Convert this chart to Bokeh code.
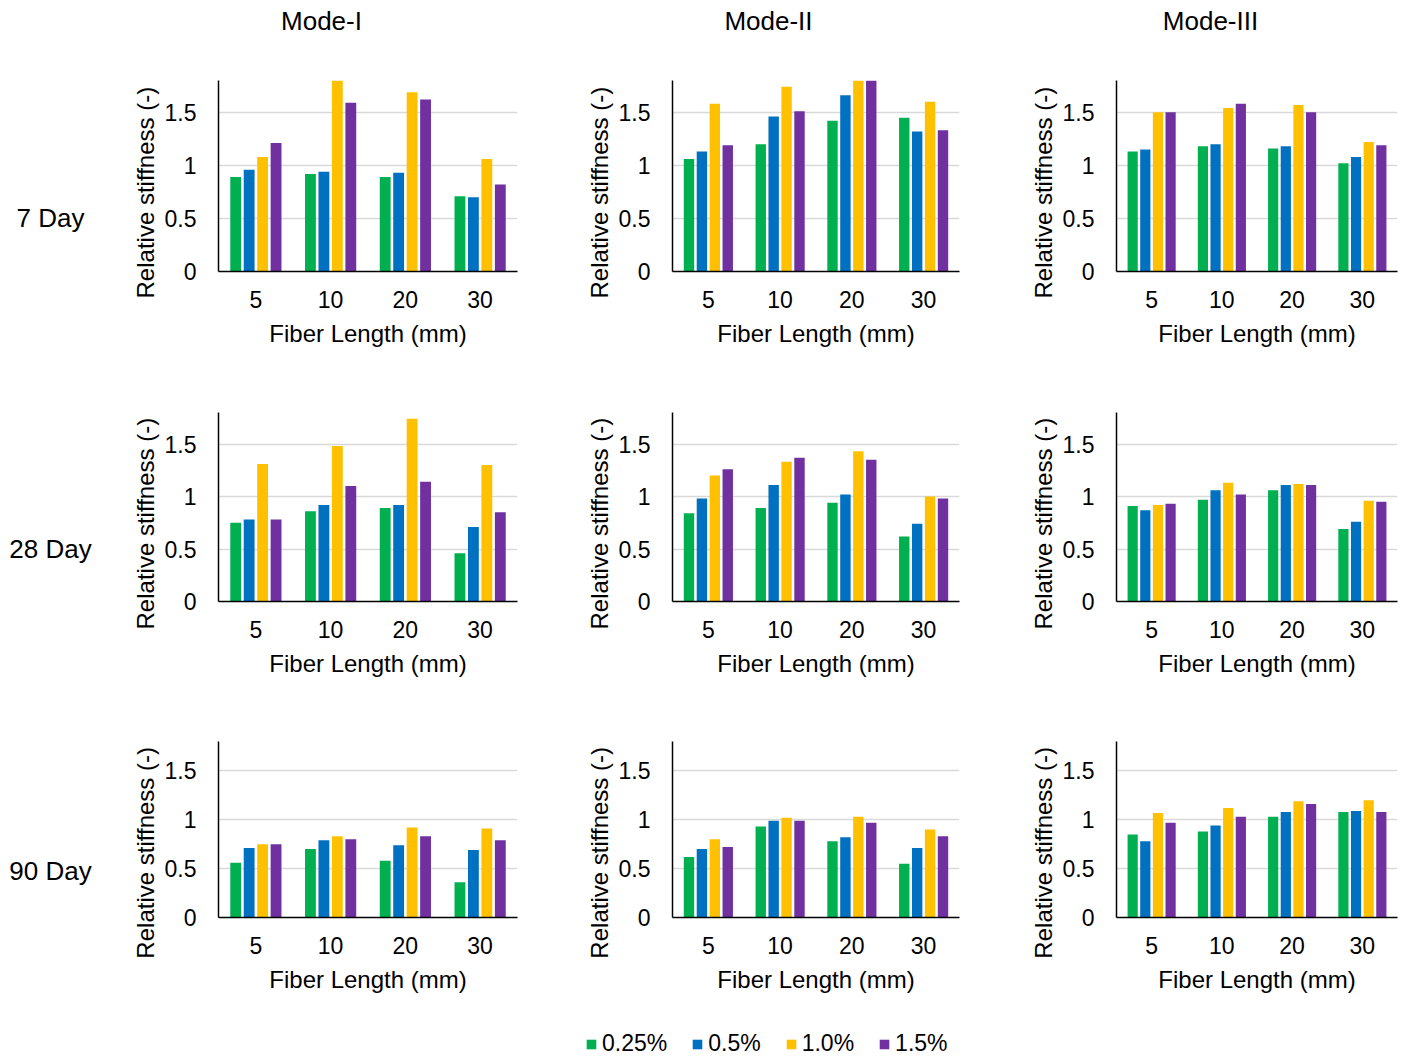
from bokeh.plotting import figure
from bokeh.layouts import column, row
from bokeh.models import (FactorRange, Range1d, FixedTicker, NumeralTickFormatter,
                          Label, Legend, LegendItem, ColumnDataSource)
from bokeh.transform import dodge
from bokeh.embed import file_html
from bokeh.resources import INLINE

FONT = "Liberation Sans"

lengths = ["5", "10", "20", "30"]
series = ["0.25%", "0.5%", "1.0%", "1.5%"]
colors = ["#00B050", "#0070C0", "#FFC000", "#7030A0"]
modes = ["Mode-I", "Mode-II", "Mode-III"]
ages = ["7 Day", "28 Day", "90 Day"]
y_ticks = [0, 0.5, 1, 1.5]
y_label = "Relative stiffness (-)"
x_label = "Fiber Length (mm)"

# ---- 7 Day ----
d7_m1_025 = [0.89, 0.92, 0.89, 0.71]
d7_m1_050 = [0.96, 0.94, 0.93, 0.70]
d7_m1_100 = [1.08, 1.80, 1.69, 1.06]
d7_m1_150 = [1.21, 1.59, 1.62, 0.82]

d7_m2_025 = [1.06, 1.20, 1.42, 1.45]
d7_m2_050 = [1.13, 1.46, 1.66, 1.32]
d7_m2_100 = [1.58, 1.74, 1.80, 1.60]
d7_m2_150 = [1.19, 1.51, 1.80, 1.33]

d7_m3_025 = [1.13, 1.18, 1.16, 1.02]
d7_m3_050 = [1.15, 1.20, 1.18, 1.08]
d7_m3_100 = [1.50, 1.54, 1.57, 1.22]
d7_m3_150 = [1.50, 1.58, 1.50, 1.19]

# ---- 28 Day ----
d28_m1_025 = [0.75, 0.86, 0.89, 0.46]
d28_m1_050 = [0.78, 0.92, 0.92, 0.71]
d28_m1_100 = [1.31, 1.48, 1.74, 1.30]
d28_m1_150 = [0.78, 1.10, 1.14, 0.85]

d28_m2_025 = [0.84, 0.89, 0.94, 0.62]
d28_m2_050 = [0.98, 1.11, 1.02, 0.74]
d28_m2_100 = [1.20, 1.33, 1.43, 1.00]
d28_m2_150 = [1.26, 1.37, 1.35, 0.98]

d28_m3_025 = [0.91, 0.97, 1.06, 0.69]
d28_m3_050 = [0.87, 1.06, 1.11, 0.76]
d28_m3_100 = [0.92, 1.13, 1.12, 0.96]
d28_m3_150 = [0.93, 1.02, 1.11, 0.95]

# ---- 90 Day ----
d90_m1_025 = [0.56, 0.70, 0.58, 0.36]
d90_m1_050 = [0.71, 0.79, 0.74, 0.69]
d90_m1_100 = [0.75, 0.83, 0.92, 0.91]
d90_m1_150 = [0.75, 0.80, 0.83, 0.79]

d90_m2_025 = [0.62, 0.93, 0.78, 0.55]
d90_m2_050 = [0.70, 0.99, 0.82, 0.71]
d90_m2_100 = [0.80, 1.02, 1.03, 0.90]
d90_m2_150 = [0.72, 0.99, 0.97, 0.83]

d90_m3_025 = [0.85, 0.88, 1.03, 1.08]
d90_m3_050 = [0.78, 0.94, 1.08, 1.09]
d90_m3_100 = [1.07, 1.12, 1.19, 1.20]
d90_m3_150 = [0.97, 1.03, 1.16, 1.08]

panels = [
    [[d7_m1_025, d7_m1_050, d7_m1_100, d7_m1_150],
     [d7_m2_025, d7_m2_050, d7_m2_100, d7_m2_150],
     [d7_m3_025, d7_m3_050, d7_m3_100, d7_m3_150]],
    [[d28_m1_025, d28_m1_050, d28_m1_100, d28_m1_150],
     [d28_m2_025, d28_m2_050, d28_m2_100, d28_m2_150],
     [d28_m3_025, d28_m3_050, d28_m3_100, d28_m3_150]],
    [[d90_m1_025, d90_m1_050, d90_m1_100, d90_m1_150],
     [d90_m2_025, d90_m2_050, d90_m2_100, d90_m2_150],
     [d90_m3_025, d90_m3_050, d90_m3_100, d90_m3_150]],
]

# layout geometry (px)
col_geo = [(98, 299, 48), (107, 287, 51), (106, 281, 3)]   # left border, frame width, right border
row_geo = [(35, 191, 104), (37, 189, 95), (45, 176, 83)]   # top border, frame height, bottom border
ylab_pad = [5, 5, 7]      # trailing no-break spaces: moves the y title down like the reference
offsets = [-0.27, -0.09, 0.09, 0.27]
bar_w = 0.145
NBSP = "\u00a0"


def panel(vals, c, r):
    lb, fw, rb = col_geo[c]
    tb, fh, bb = row_geo[r]
    p = figure(x_range=FactorRange(*lengths), y_range=Range1d(0, 1.8),
               frame_width=fw, frame_height=fh,
               min_border_left=lb, min_border_right=rb,
               min_border_top=tb, min_border_bottom=bb,
               toolbar_location=None, output_backend="svg",
               outline_line_color=None, background_fill_color="white",
               border_fill_color="white")
    data = dict(length=lengths)
    for i, v in enumerate(vals):
        data[f"s{i}"] = v
    src = ColumnDataSource(data)
    for i, col in enumerate(colors):
        p.vbar(x=dodge("length", offsets[i], range=p.x_range), top=f"s{i}",
               width=bar_w, source=src, fill_color=col, line_color=None)
    p.yaxis.ticker = FixedTicker(ticks=y_ticks)
    p.yaxis.formatter = NumeralTickFormatter(format="0.[0]")
    p.xgrid.grid_line_color = None
    p.ygrid.grid_line_color = "#d9d9d9"
    p.ygrid.grid_line_width = 1.5
    for ax in (p.xaxis, p.yaxis):
        ax.axis_line_color = "black"
        ax.axis_line_width = 1.5
        ax.major_tick_out = 0
        ax.major_tick_in = 0
        ax.minor_tick_out = 0
        ax.minor_tick_in = 0
        ax.major_label_text_font = FONT
        ax.major_label_text_font_size = "23px"
        ax.major_label_text_color = "black"
        ax.axis_label_text_font = FONT
        ax.axis_label_text_font_size = "24px"
        ax.axis_label_text_font_style = "normal"
        ax.axis_label_text_color = "black"
    p.xaxis.axis_label = x_label
    p.yaxis.axis_label = y_label + NBSP * ylab_pad[r]
    p.xaxis.axis_label_standoff = 9
    p.yaxis.axis_label_standoff = 3
    p.yaxis.major_label_standoff = 22
    p.xaxis.major_label_standoff = 19
    return p


def blank(w, h, ymax, tb=0, bb=0):
    f = figure(width=w, height=h, x_range=Range1d(0, w), y_range=Range1d(0, ymax),
               x_axis_type=None, y_axis_type=None, min_border=0,
               min_border_top=tb, min_border_bottom=bb,
               toolbar_location=None, output_backend="svg",
               outline_line_color=None, background_fill_color="white",
               border_fill_color="white")
    f.xgrid.visible = False
    f.ygrid.visible = False
    return f


TOTAL_W = 1400
COL0_W = 120
TOP_H = 45
LEG_H = 57

# top strip with mode titles
top = blank(TOTAL_W, TOP_H, TOP_H)
title_x = [321, 768, 1210]
for m, tx in zip(modes, title_x):
    top.add_layout(Label(x=tx, y=TOP_H - 20, text=m, text_align="center", text_baseline="middle",
                         text_font=FONT, text_font_size="26px", text_color="black"))

label_y_from_top = [172, 173, 174]   # row label centre, px below the row's top
rows = []
for r, age in enumerate(ages):
    tb, fh, bb = row_geo[r]
    h = tb + fh + bb
    # frames in a row are aligned, so the label figure shares the panels' frame
    lab = blank(COL0_W, h, fh, tb, bb)
    lab.add_layout(Label(x=50, y=tb + fh - label_y_from_top[r], text=age, text_align="center",
                         text_baseline="middle", text_font=FONT, text_font_size="26px",
                         text_color="black"))
    figs = [lab]
    for c in range(3):
        figs.append(panel(panels[r][c], c, r))
    rows.append(row(*figs, spacing=0))

# legend strip
leg = blank(TOTAL_W, LEG_H, LEG_H)
items = []
for s, col in zip(series, colors):
    rr = leg.vbar(x=[0], top=[0], width=1, fill_color=col, line_color=None)
    items.append(LegendItem(label=s, renderers=[rr]))
legend = Legend(items=items, orientation="horizontal", location=(585, 0),
                label_text_font=FONT, label_text_font_size="23px", label_text_color="black",
                glyph_width=12, glyph_height=12, label_standoff=5, spacing=24,
                padding=0, margin=0, border_line_color=None, background_fill_alpha=0)
leg.add_layout(legend)

layout = column(top, *rows, leg, spacing=0)

open("out.html", "w").write(file_html(layout, INLINE))
